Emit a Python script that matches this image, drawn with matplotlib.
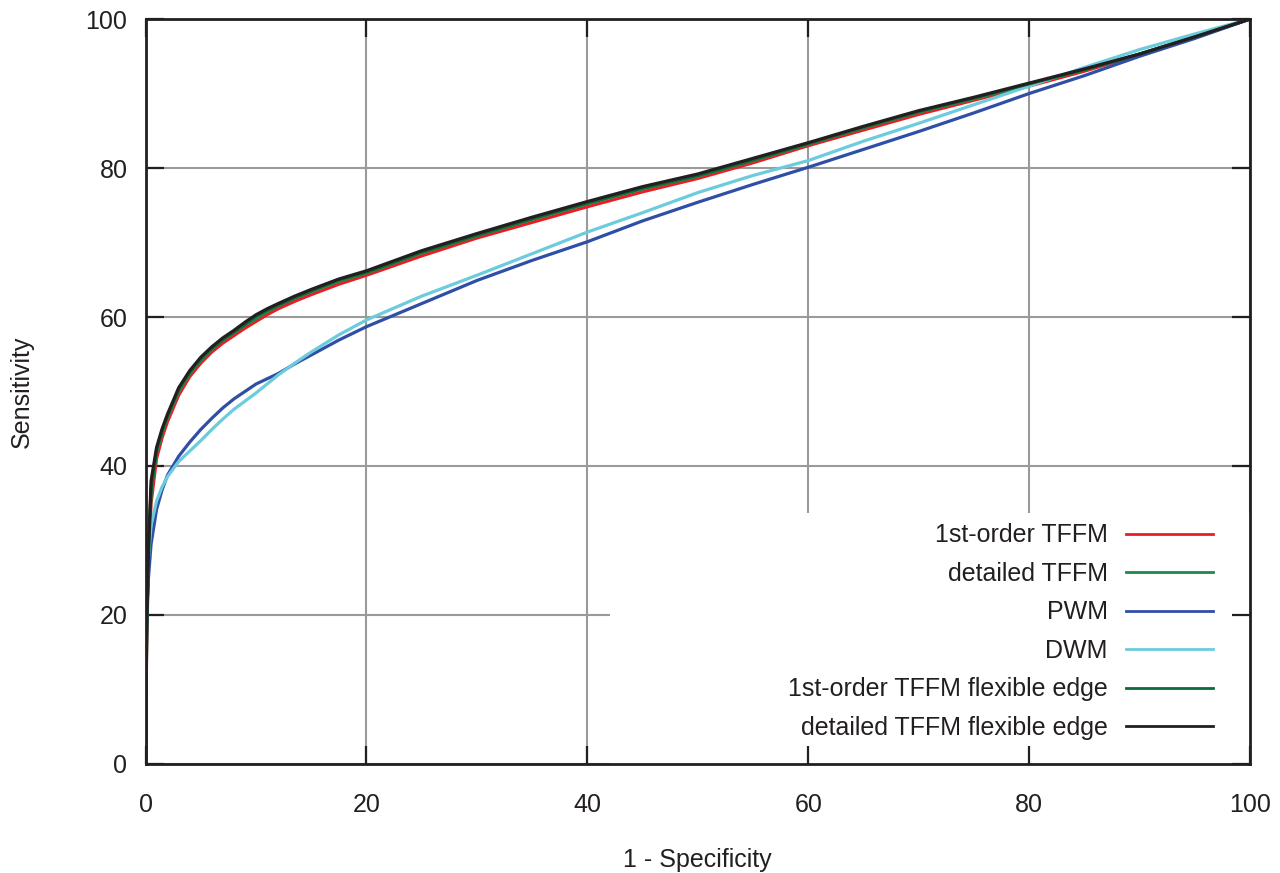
import numpy as np
import matplotlib
matplotlib.use("Agg")
import matplotlib.pyplot as plt
from matplotlib.patches import Rectangle

plt.rcParams['font.family'] = ['Liberation Sans', 'DejaVu Sans']

# 1 - specificity (%) sampling points
fpr = [0, 0.1, 0.25, 0.5, 1, 1.5, 2, 3, 4, 5, 6, 7, 8, 9, 10, 11, 12, 13.5, 15, 17.5, 20,
       25, 30, 35, 40, 45, 50, 55, 60, 65, 70, 75, 80, 85, 90, 95, 100]

# sensitivity (%) per model
first_tffm = [0, 16, 26, 35, 41, 43.8, 46, 49.5, 52, 53.8, 55.3, 56.5, 57.5, 58.5, 59.4, 60.3, 61.1, 62.1, 63.0, 64.4, 65.6,
              68.2, 70.6, 72.7, 74.8, 76.8, 78.6, 80.7, 83.0, 85.1, 87.2, 89.1, 91.0, 93.0, 95.2, 97.5, 100]
detailed_tffm = [0, 17, 27, 36.5, 41.8, 44.4, 46.6, 50.0, 52.4, 54.2, 55.7, 56.9, 57.9, 58.9, 59.8, 60.7, 61.5, 62.5, 63.4, 64.8, 65.9,
                 68.6, 70.9, 73.1, 75.2, 77.2, 78.9, 81.0, 83.2, 85.4, 87.5, 89.3, 91.2, 93.2, 95.3, 97.6, 100]
pwm = [0, 20, 24.7, 29.5, 34.2, 36.8, 38.8, 41.3, 43.2, 44.9, 46.4, 47.8, 49.0, 50.0, 51.0, 51.7, 52.4, 53.7, 54.9, 56.9, 58.7,
       61.8, 64.9, 67.6, 70.1, 72.9, 75.4, 77.8, 80.1, 82.5, 84.9, 87.4, 90.0, 92.4, 95.0, 97.4, 100]
dwm = [0, 21, 27.5, 32.0, 35.3, 37.2, 38.6, 40.6, 42.0, 43.4, 44.9, 46.3, 47.6, 48.7, 49.8, 51.0, 52.2, 53.8, 55.3, 57.6, 59.6,
       62.8, 65.6, 68.5, 71.4, 74.0, 76.7, 79.0, 81.0, 83.6, 86.0, 88.5, 91.0, 93.5, 95.9, 98.0, 100]
first_flex = [0, 17.5, 27.5, 37, 42.2, 44.7, 46.8, 50.3, 52.6, 54.4, 55.8, 57.0, 58.0, 59.0, 60.1, 60.9, 61.6, 62.6, 63.5, 65.0, 66.0,
              68.7, 71.0, 73.2, 75.3, 77.3, 79.0, 81.1, 83.3, 85.5, 87.6, 89.4, 91.3, 93.2, 95.3, 97.6, 100]
detailed_flex = [0, 18, 28, 38, 42.5, 45, 47, 50.5, 52.8, 54.6, 56.0, 57.2, 58.2, 59.3, 60.3, 61.1, 61.8, 62.8, 63.7, 65.1, 66.2,
                 68.9, 71.2, 73.4, 75.5, 77.5, 79.2, 81.3, 83.4, 85.6, 87.7, 89.5, 91.4, 93.3, 95.3, 97.6, 100]

labels = ["1st-order TFFM", "detailed TFFM", "PWM", "DWM",
          "1st-order TFFM flexible edge", "detailed TFFM flexible edge"]
series = [first_tffm, detailed_tffm, pwm, dwm, first_flex, detailed_flex]
colors = ["#ec1c24", "#1b8a4c", "#2f4ea6", "#6ccbdc", "#0c6a38", "#231f20"]

ticks = [0, 20, 40, 60, 80, 100]

fig = plt.figure(figsize=(12.8, 8.73), dpi=100)
ax = fig.add_axes([0.1137, 0.1249, 0.8629, 0.8533])

# grid, hidden behind the key box like gnuplot does
ax.vlines(ticks, 0, 100, color="#9a9a9a", lw=1.5, zorder=0.5)
ax.hlines(ticks, 0, 100, color="#9a9a9a", lw=1.5, zorder=0.5)
ax.add_patch(Rectangle((0.4206, 0), 0.5794, 0.337, transform=ax.transAxes,
                       facecolor="white", edgecolor="none", zorder=0.7))

for y, lab, c in zip(series, labels, colors):
    ax.plot(fpr, y, color=c, lw=2.3, label=lab, zorder=2)

ax.set_xlim(0, 100)
ax.set_ylim(0, 100)
ax.set_xticks(ticks)
ax.set_yticks(ticks)
ax.tick_params(direction="in", length=13, width=1.6, top=True, right=True,
               labelsize=18, colors="#231f20")
ax.tick_params(axis="x", pad=21)
ax.tick_params(axis="y", pad=13)
for s in ax.spines.values():
    s.set_linewidth(2)
    s.set_color("#231f20")

ax.set_xlabel("1 - Specificity", fontsize=18, color="#231f20")
ax.set_ylabel("Sensitivity", fontsize=18, color="#231f20")
ax.xaxis.set_label_coords(0.5, -0.129)
ax.xaxis.label.set_va("center")
ax.yaxis.set_label_coords(-0.112, 0.5)
ax.yaxis.label.set_va("center")

leg = ax.legend(loc="upper right", bbox_to_anchor=(0.9665, 0.323), frameon=False,
                markerfirst=False, fontsize=18, handlelength=3.5, handletextpad=0.72,
                labelspacing=0.58, borderpad=0, borderaxespad=0)
for t in leg.get_texts():
    t.set_color("#231f20")
for h in leg.get_lines():
    h.set_linewidth(2)
leg.set_zorder(5)

fig.savefig("out.png", dpi=100)
